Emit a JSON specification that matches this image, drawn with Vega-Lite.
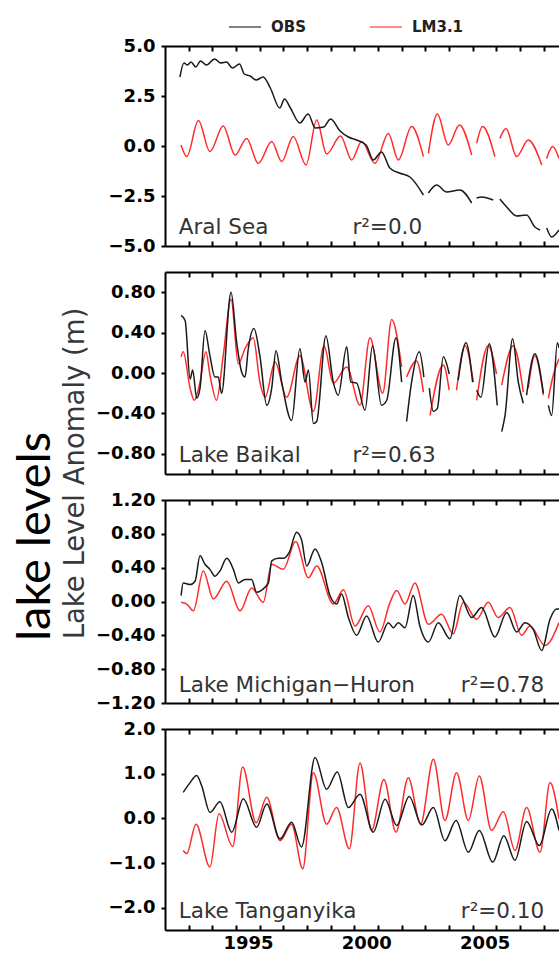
{
  "$schema": "https://vega.github.io/schema/vega-lite/v6.json",
  "autosize": {"type": "none"},
  "padding": {"left": 165, "top": 46, "right": 394, "bottom": 914},
  "background": "white",
  "bounds": "flush",
  "spacing": 26,
  "resolve": {"scale": {"color": "shared"}, "legend": {"color": "shared"}},
  "datasets": {
    "aral": [
      {"s":"LM3.1","t":1992.68,"v":0.05},{"s":"LM3.1","t":1992.92,"v":-0.53},{"s":"LM3.1","t":1993.41,"v":1.27},{"s":"LM3.1","t":1993.90,"v":-0.28},{"s":"LM3.1","t":1994.46,"v":1.0},{"s":"LM3.1","t":1994.96,"v":-0.45},{"s":"LM3.1","t":1995.45,"v":0.38},{"s":"LM3.1","t":1995.94,"v":-0.87},{"s":"LM3.1","t":1996.51,"v":0.22},{"s":"LM3.1","t":1996.93,"v":-0.78},{"s":"LM3.1","t":1997.42,"v":0.47},{"s":"LM3.1","t":1997.96,"v":-0.95},{"s":"LM3.1","t":1998.41,"v":1.3},{"s":"LM3.1","t":1998.83,"v":-0.4},{"s":"LM3.1","t":1999.42,"v":0.5},{"s":"LM3.1","t":1999.89,"v":-0.7},{"s":"LM3.1","t":2000.31,"v":0.22},{"s":"LM3.1","t":2000.87,"v":-0.87},{"s":"LM3.1","t":2001.44,"v":0.63},{"s":"LM3.1","t":2001.86,"v":-0.7},{"s":"LM3.1","t":2002.42,"v":0.97},{"s":"LM3.1","t":2002.92,"v":-0.53},{"s":"LM3.1","t":2003.02,"v":null},{"s":"LM3.1","t":2003.13,"v":-0.37},{"s":"LM3.1","t":2003.51,"v":1.6},{"s":"LM3.1","t":2003.97,"v":0.05},{"s":"LM3.1","t":2004.44,"v":1.05},{"s":"LM3.1","t":2004.96,"v":-0.45},{"s":"LM3.1","t":2005.06,"v":null},{"s":"LM3.1","t":2005.17,"v":0.13},{"s":"LM3.1","t":2005.42,"v":0.97},{"s":"LM3.1","t":2005.94,"v":-0.53},{"s":"LM3.1","t":2006.05,"v":null},{"s":"LM3.1","t":2006.15,"v":0.38},{"s":"LM3.1","t":2006.41,"v":0.88},{"s":"LM3.1","t":2006.86,"v":-0.53},{"s":"LM3.1","t":2007.35,"v":0.3},{"s":"LM3.1","t":2007.92,"v":-0.95},{"s":"LM3.1","t":2008.02,"v":null},{"s":"LM3.1","t":2008.13,"v":-0.62},{"s":"LM3.1","t":2008.38,"v":-0.03},{"s":"LM3.1","t":2008.65,"v":-0.62},
      {"s":"OBS","t":1992.63,"v":3.45},{"s":"OBS","t":1992.8,"v":4.15},{"s":"OBS","t":1992.95,"v":4.05},{"s":"OBS","t":1993.1,"v":4.2},{"s":"OBS","t":1993.3,"v":3.95},{"s":"OBS","t":1993.5,"v":4.25},{"s":"OBS","t":1993.75,"v":4.05},{"s":"OBS","t":1994.1,"v":4.35},{"s":"OBS","t":1994.35,"v":4.15},{"s":"OBS","t":1994.6,"v":4.2},{"s":"OBS","t":1994.85,"v":3.9},{"s":"OBS","t":1995.15,"v":4.1},{"s":"OBS","t":1995.35,"v":3.6},{"s":"OBS","t":1995.6,"v":3.5},{"s":"OBS","t":1995.85,"v":3.3},{"s":"OBS","t":1996.15,"v":3.45},{"s":"OBS","t":1996.45,"v":2.9},{"s":"OBS","t":1996.85,"v":1.9},{"s":"OBS","t":1997.05,"v":2.35},{"s":"OBS","t":1997.3,"v":1.9},{"s":"OBS","t":1997.7,"v":1.15},{"s":"OBS","t":1998.05,"v":1.6},{"s":"OBS","t":1998.35,"v":0.9},{"s":"OBS","t":1998.7,"v":0.95},{"s":"OBS","t":1999.0,"v":1.35},{"s":"OBS","t":1999.4,"v":0.75},{"s":"OBS","t":1999.75,"v":0.45},{"s":"OBS","t":2000.1,"v":0.3},{"s":"OBS","t":2000.5,"v":0.05},{"s":"OBS","t":2000.8,"v":-0.7},{"s":"OBS","t":2001.15,"v":-0.3},{"s":"OBS","t":2001.5,"v":-1.1},{"s":"OBS","t":2001.9,"v":-1.35},{"s":"OBS","t":2002.35,"v":-1.55},{"s":"OBS","t":2002.92,"v":-2.45},{"s":"OBS","t":2003.02,"v":null},{"s":"OBS","t":2003.13,"v":-2.35},{"s":"OBS","t":2003.48,"v":-1.95},{"s":"OBS","t":2003.9,"v":-2.3},{"s":"OBS","t":2004.46,"v":-2.2},{"s":"OBS","t":2004.96,"v":-2.85},{"s":"OBS","t":2005.06,"v":null},{"s":"OBS","t":2005.17,"v":-2.6},{"s":"OBS","t":2005.38,"v":-2.55},{"s":"OBS","t":2005.87,"v":-2.7},{"s":"OBS","t":2006.05,"v":null},{"s":"OBS","t":2006.15,"v":-2.65},{"s":"OBS","t":2006.44,"v":-3.05},{"s":"OBS","t":2006.86,"v":-3.5},{"s":"OBS","t":2007.28,"v":-3.45},{"s":"OBS","t":2007.63,"v":-4.05},{"s":"OBS","t":2007.85,"v":-4.2},{"s":"OBS","t":2008.02,"v":null},{"s":"OBS","t":2008.13,"v":-4.1},{"s":"OBS","t":2008.34,"v":-4.55},{"s":"OBS","t":2008.65,"v":-4.2}
    ],
    "baikal": [
      {"s":"LM3.1","t":1992.68,"v":0.16},{"s":"LM3.1","t":1992.77,"v":0.21},{"s":"LM3.1","t":1993.06,"v":-0.15},{"s":"LM3.1","t":1993.24,"v":-0.27},{"s":"LM3.1","t":1993.48,"v":-0.09},{"s":"LM3.1","t":1993.73,"v":0.21},{"s":"LM3.1","t":1993.9,"v":-0.02},{"s":"LM3.1","t":1994.18,"v":-0.27},{"s":"LM3.1","t":1994.46,"v":0.17},{"s":"LM3.1","t":1994.79,"v":0.73},{"s":"LM3.1","t":1995.1,"v":0.09},{"s":"LM3.1","t":1995.38,"v":0.24},{"s":"LM3.1","t":1995.73,"v":0.35},{"s":"LM3.1","t":1996.01,"v":-0.09},{"s":"LM3.1","t":1996.23,"v":-0.24},{"s":"LM3.1","t":1996.65,"v":0.11},{"s":"LM3.1","t":1997.14,"v":-0.24},{"s":"LM3.1","t":1997.7,"v":0.17},{"s":"LM3.1","t":1998.27,"v":-0.38},{"s":"LM3.1","t":1998.72,"v":0.27},{"s":"LM3.1","t":1999.11,"v":-0.1},{"s":"LM3.1","t":1999.68,"v":0.06},{"s":"LM3.1","t":2000.24,"v":-0.32},{"s":"LM3.1","t":2000.66,"v":0.35},{"s":"LM3.1","t":2001.2,"v":-0.2},{"s":"LM3.1","t":2001.58,"v":0.53},{"s":"LM3.1","t":2002.0,"v":0.06},{"s":"LM3.1","t":2002.1,"v":null},{"s":"LM3.1","t":2002.21,"v":-0.04},{"s":"LM3.1","t":2002.63,"v":0.12},{"s":"LM3.1","t":2002.92,"v":-0.19},{"s":"LM3.1","t":2003.05,"v":null},{"s":"LM3.1","t":2003.2,"v":-0.42},{"s":"LM3.1","t":2003.76,"v":0.08},{"s":"LM3.1","t":2004.01,"v":-0.17},{"s":"LM3.1","t":2004.15,"v":null},{"s":"LM3.1","t":2004.32,"v":-0.17},{"s":"LM3.1","t":2004.68,"v":0.27},{"s":"LM3.1","t":2005.03,"v":-0.09},{"s":"LM3.1","t":2005.08,"v":null},{"s":"LM3.1","t":2005.17,"v":-0.27},{"s":"LM3.1","t":2005.66,"v":0.27},{"s":"LM3.1","t":2006.01,"v":-0.01},{"s":"LM3.1","t":2006.13,"v":null},{"s":"LM3.1","t":2006.23,"v":-0.12},{"s":"LM3.1","t":2006.72,"v":0.27},{"s":"LM3.1","t":2007.14,"v":-0.19},{"s":"LM3.1","t":2007.2,"v":null},{"s":"LM3.1","t":2007.35,"v":-0.15},{"s":"LM3.1","t":2007.63,"v":0.17},{"s":"LM3.1","t":2007.99,"v":-0.22},{"s":"LM3.1","t":2008.1,"v":null},{"s":"LM3.1","t":2008.2,"v":-0.25},{"s":"LM3.1","t":2008.41,"v":-0.02},{"s":"LM3.1","t":2008.65,"v":0.14},
      {"s":"OBS","t":1992.68,"v":0.57},{"s":"OBS","t":1992.85,"v":0.52},{"s":"OBS","t":1993.06,"v":-0.06},{"s":"OBS","t":1993.17,"v":0.03},{"s":"OBS","t":1993.34,"v":-0.25},{"s":"OBS","t":1993.48,"v":-0.15},{"s":"OBS","t":1993.69,"v":0.42},{"s":"OBS","t":1993.9,"v":0.17},{"s":"OBS","t":1994.11,"v":-0.04},{"s":"OBS","t":1994.25,"v":-0.04},{"s":"OBS","t":1994.39,"v":-0.2},{"s":"OBS","t":1994.79,"v":0.8},{"s":"OBS","t":1995.03,"v":0.3},{"s":"OBS","t":1995.24,"v":0.01},{"s":"OBS","t":1995.38,"v":-0.04},{"s":"OBS","t":1995.52,"v":0.24},{"s":"OBS","t":1995.76,"v":0.44},{"s":"OBS","t":1996.01,"v":0.17},{"s":"OBS","t":1996.3,"v":-0.32},{"s":"OBS","t":1996.51,"v":-0.15},{"s":"OBS","t":1996.69,"v":0.22},{"s":"OBS","t":1996.93,"v":-0.09},{"s":"OBS","t":1997.35,"v":-0.47},{"s":"OBS","t":1997.7,"v":0.24},{"s":"OBS","t":1997.92,"v":-0.09},{"s":"OBS","t":1998.06,"v":0.03},{"s":"OBS","t":1998.27,"v":-0.5},{"s":"OBS","t":1998.41,"v":-0.48},{"s":"OBS","t":1998.8,"v":0.37},{"s":"OBS","t":1999.11,"v":-0.09},{"s":"OBS","t":1999.32,"v":-0.22},{"s":"OBS","t":1999.68,"v":0.26},{"s":"OBS","t":1999.85,"v":-0.09},{"s":"OBS","t":2000.1,"v":-0.1},{"s":"OBS","t":2000.45,"v":-0.37},{"s":"OBS","t":2000.77,"v":0.27},{"s":"OBS","t":2001.15,"v":-0.32},{"s":"OBS","t":2001.37,"v":-0.27},{"s":"OBS","t":2001.76,"v":0.35},{"s":"OBS","t":2002.0,"v":-0.09},{"s":"OBS","t":2002.1,"v":null},{"s":"OBS","t":2002.21,"v":-0.48},{"s":"OBS","t":2002.42,"v":-0.09},{"s":"OBS","t":2002.75,"v":0.21},{"s":"OBS","t":2002.94,"v":-0.04},{"s":"OBS","t":2003.05,"v":null},{"s":"OBS","t":2003.17,"v":-0.15},{"s":"OBS","t":2003.34,"v":-0.38},{"s":"OBS","t":2003.51,"v":-0.35},{"s":"OBS","t":2003.76,"v":0.16},{"s":"OBS","t":2004.01,"v":-0.01},{"s":"OBS","t":2004.15,"v":null},{"s":"OBS","t":2004.39,"v":-0.07},{"s":"OBS","t":2004.72,"v":0.3},{"s":"OBS","t":2005.0,"v":-0.09},{"s":"OBS","t":2005.08,"v":null},{"s":"OBS","t":2005.17,"v":-0.17},{"s":"OBS","t":2005.35,"v":-0.24},{"s":"OBS","t":2005.7,"v":0.29},{"s":"OBS","t":2006.04,"v":-0.32},{"s":"OBS","t":2006.13,"v":null},{"s":"OBS","t":2006.23,"v":-0.58},{"s":"OBS","t":2006.37,"v":-0.42},{"s":"OBS","t":2006.69,"v":0.34},{"s":"OBS","t":2006.93,"v":-0.09},{"s":"OBS","t":2007.14,"v":-0.3},{"s":"OBS","t":2007.2,"v":null},{"s":"OBS","t":2007.28,"v":-0.22},{"s":"OBS","t":2007.63,"v":0.19},{"s":"OBS","t":2007.99,"v":-0.2},{"s":"OBS","t":2008.1,"v":null},{"s":"OBS","t":2008.2,"v":-0.32},{"s":"OBS","t":2008.34,"v":-0.42},{"s":"OBS","t":2008.58,"v":0.3},{"s":"OBS","t":2008.65,"v":0.25}
    ],
    "mh": [
      {"s":"LM3.1","t":1992.68,"v":-0.01},{"s":"LM3.1","t":1992.92,"v":-0.03},{"s":"LM3.1","t":1993.2,"v":-0.11},{"s":"LM3.1","t":1993.62,"v":0.36},{"s":"LM3.1","t":1994.04,"v":0.03},{"s":"LM3.1","t":1994.61,"v":0.24},{"s":"LM3.1","t":1995.17,"v":-0.11},{"s":"LM3.1","t":1995.66,"v":0.16},{"s":"LM3.1","t":1996.15,"v":-0.01},{"s":"LM3.1","t":1996.51,"v":0.44},{"s":"LM3.1","t":1997.0,"v":0.38},{"s":"LM3.1","t":1997.52,"v":0.71},{"s":"LM3.1","t":1998.06,"v":0.28},{"s":"LM3.1","t":1998.41,"v":0.42},{"s":"LM3.1","t":1999.11,"v":-0.03},{"s":"LM3.1","t":1999.54,"v":0.14},{"s":"LM3.1","t":2000.03,"v":-0.29},{"s":"LM3.1","t":2000.59,"v":-0.05},{"s":"LM3.1","t":2001.08,"v":-0.36},{"s":"LM3.1","t":2001.51,"v":-0.01},{"s":"LM3.1","t":2001.79,"v":0.13},{"s":"LM3.1","t":2002.14,"v":-0.03},{"s":"LM3.1","t":2002.56,"v":0.22},{"s":"LM3.1","t":2003.13,"v":-0.27},{"s":"LM3.1","t":2003.69,"v":-0.15},{"s":"LM3.1","t":2004.18,"v":-0.38},{"s":"LM3.1","t":2004.61,"v":-0.01},{"s":"LM3.1","t":2005.17,"v":-0.21},{"s":"LM3.1","t":2005.66,"v":-0.01},{"s":"LM3.1","t":2006.08,"v":-0.19},{"s":"LM3.1","t":2006.58,"v":-0.07},{"s":"LM3.1","t":2007.07,"v":-0.4},{"s":"LM3.1","t":2007.42,"v":-0.29},{"s":"LM3.1","t":2008.06,"v":-0.52},{"s":"LM3.1","t":2008.65,"v":-0.25},
      {"s":"OBS","t":1992.68,"v":0.07},{"s":"OBS","t":1992.77,"v":0.22},{"s":"OBS","t":1993.06,"v":0.2},{"s":"OBS","t":1993.27,"v":0.24},{"s":"OBS","t":1993.48,"v":0.54},{"s":"OBS","t":1993.69,"v":0.44},{"s":"OBS","t":1993.9,"v":0.38},{"s":"OBS","t":1994.11,"v":0.3},{"s":"OBS","t":1994.32,"v":0.36},{"s":"OBS","t":1994.61,"v":0.51},{"s":"OBS","t":1994.89,"v":0.38},{"s":"OBS","t":1995.1,"v":0.22},{"s":"OBS","t":1995.38,"v":0.26},{"s":"OBS","t":1995.66,"v":0.26},{"s":"OBS","t":1995.87,"v":0.11},{"s":"OBS","t":1996.15,"v":0.15},{"s":"OBS","t":1996.37,"v":0.22},{"s":"OBS","t":1996.51,"v":0.48},{"s":"OBS","t":1996.79,"v":0.51},{"s":"OBS","t":1997.0,"v":0.51},{"s":"OBS","t":1997.25,"v":0.58},{"s":"OBS","t":1997.56,"v":0.82},{"s":"OBS","t":1997.77,"v":0.73},{"s":"OBS","t":1997.99,"v":0.42},{"s":"OBS","t":1998.34,"v":0.62},{"s":"OBS","t":1998.62,"v":0.46},{"s":"OBS","t":1998.97,"v":0.07},{"s":"OBS","t":1999.25,"v":-0.03},{"s":"OBS","t":1999.46,"v":0.09},{"s":"OBS","t":1999.75,"v":-0.19},{"s":"OBS","t":2000.1,"v":-0.4},{"s":"OBS","t":2000.52,"v":-0.17},{"s":"OBS","t":2001.01,"v":-0.48},{"s":"OBS","t":2001.44,"v":-0.25},{"s":"OBS","t":2001.65,"v":-0.31},{"s":"OBS","t":2001.86,"v":-0.25},{"s":"OBS","t":2002.14,"v":-0.31},{"s":"OBS","t":2002.49,"v":0.07},{"s":"OBS","t":2002.77,"v":-0.29},{"s":"OBS","t":2003.13,"v":-0.48},{"s":"OBS","t":2003.55,"v":-0.25},{"s":"OBS","t":2004.04,"v":-0.44},{"s":"OBS","t":2004.46,"v":0.07},{"s":"OBS","t":2004.96,"v":-0.19},{"s":"OBS","t":2005.38,"v":-0.07},{"s":"OBS","t":2005.94,"v":-0.42},{"s":"OBS","t":2006.44,"v":-0.13},{"s":"OBS","t":2006.86,"v":-0.36},{"s":"OBS","t":2007.21,"v":-0.25},{"s":"OBS","t":2007.56,"v":-0.33},{"s":"OBS","t":2007.92,"v":-0.58},{"s":"OBS","t":2008.27,"v":-0.21},{"s":"OBS","t":2008.55,"v":-0.09},{"s":"OBS","t":2008.65,"v":-0.09}
    ],
    "tang": [
      {"s":"LM3.1","t":1992.77,"v":-0.72},{"s":"LM3.1","t":1992.92,"v":-0.79},{"s":"LM3.1","t":1993.31,"v":-0.13},{"s":"LM3.1","t":1993.9,"v":-1.09},{"s":"LM3.1","t":1994.28,"v":0.1},{"s":"LM3.1","t":1994.86,"v":-0.63},{"s":"LM3.1","t":1995.28,"v":1.15},{"s":"LM3.1","t":1995.85,"v":-0.1},{"s":"LM3.1","t":1996.3,"v":0.47},{"s":"LM3.1","t":1996.86,"v":-0.5},{"s":"LM3.1","t":1997.35,"v":-0.13},{"s":"LM3.1","t":1997.82,"v":-1.13},{"s":"LM3.1","t":1998.27,"v":1.02},{"s":"LM3.1","t":1998.83,"v":-0.13},{"s":"LM3.1","t":1999.25,"v":0.24},{"s":"LM3.1","t":1999.79,"v":-0.68},{"s":"LM3.1","t":2000.24,"v":1.24},{"s":"LM3.1","t":2000.73,"v":-0.27},{"s":"LM3.1","t":2001.25,"v":0.87},{"s":"LM3.1","t":2001.76,"v":-0.31},{"s":"LM3.1","t":2002.28,"v":0.91},{"s":"LM3.1","t":2002.8,"v":-0.13},{"s":"LM3.1","t":2003.34,"v":1.32},{"s":"LM3.1","t":2003.83,"v":-0.05},{"s":"LM3.1","t":2004.32,"v":1.02},{"s":"LM3.1","t":2004.82,"v":-0.05},{"s":"LM3.1","t":2005.28,"v":0.95},{"s":"LM3.1","t":2005.8,"v":-0.27},{"s":"LM3.1","t":2006.3,"v":0.15},{"s":"LM3.1","t":2006.79,"v":-0.72},{"s":"LM3.1","t":2007.28,"v":0.24},{"s":"LM3.1","t":2007.85,"v":-0.76},{"s":"LM3.1","t":2008.27,"v":0.8},{"s":"LM3.1","t":2008.65,"v":-0.01},
      {"s":"OBS","t":1992.77,"v":0.58},{"s":"OBS","t":1993.06,"v":0.8},{"s":"OBS","t":1993.34,"v":0.96},{"s":"OBS","t":1993.55,"v":0.73},{"s":"OBS","t":1993.9,"v":0.13},{"s":"OBS","t":1994.32,"v":0.37},{"s":"OBS","t":1994.82,"v":-0.31},{"s":"OBS","t":1995.31,"v":0.44},{"s":"OBS","t":1995.87,"v":-0.2},{"s":"OBS","t":1996.3,"v":0.32},{"s":"OBS","t":1996.86,"v":-0.46},{"s":"OBS","t":1997.35,"v":-0.09},{"s":"OBS","t":1997.77,"v":-0.64},{"s":"OBS","t":1998.34,"v":1.36},{"s":"OBS","t":1998.83,"v":0.65},{"s":"OBS","t":1999.28,"v":1.04},{"s":"OBS","t":1999.75,"v":0.24},{"s":"OBS","t":2000.24,"v":0.54},{"s":"OBS","t":2000.8,"v":-0.31},{"s":"OBS","t":2001.3,"v":0.43},{"s":"OBS","t":2001.79,"v":-0.16},{"s":"OBS","t":2002.32,"v":0.49},{"s":"OBS","t":2002.85,"v":-0.15},{"s":"OBS","t":2003.34,"v":0.24},{"s":"OBS","t":2003.83,"v":-0.5},{"s":"OBS","t":2004.3,"v":-0.05},{"s":"OBS","t":2004.82,"v":-0.76},{"s":"OBS","t":2005.28,"v":-0.27},{"s":"OBS","t":2005.85,"v":-0.98},{"s":"OBS","t":2006.32,"v":-0.39},{"s":"OBS","t":2006.79,"v":-0.94},{"s":"OBS","t":2007.28,"v":-0.07},{"s":"OBS","t":2007.82,"v":-0.61},{"s":"OBS","t":2008.34,"v":0.21},{"s":"OBS","t":2008.65,"v":-0.27}
    ]
  },
  "vconcat": [
    {
      "width": 394, "height": 200,
      "layer": [
        {
          "data": {"name": "aral"},
          "mark": {"type": "line", "interpolate": "monotone", "strokeWidth": 1.5, "clip": true, "invalid": "break-paths-show-domains"},
          "encoding": {
            "x": {"field": "t", "type": "quantitative", "scale": {"domain": [1992, 2008.65], "nice": false, "zero": false},
                  "axis": {"orient": "bottom", "values": [1993,1994,1995,1996,1997,1998,1999,2000,2001,2002,2003,2004,2005,2006,2007,2008], "tickCount": 40, "tickSize": -5, "labels": false, "title": null}},
            "y": {"field": "v", "type": "quantitative", "scale": {"domain": [-5, 5], "nice": false, "zero": false},
                  "axis": {"orient": "left", "values": [-5,-2.5,0,2.5,5], "tickCount": 40, "format": ".1f", "tickSize": 4, "labelPadding": 6, "labelOverlap": false, "labelSeparation": 0, "title": null}},
            "color": {"field": "s", "type": "nominal", "scale": {"domain": ["OBS","LM3.1"], "range": ["#1a1a1a","#ff2b2b"]},
                      "legend": {"orient": "none", "legendX": 63, "legendY": -36, "direction": "horizontal", "title": null, "symbolType": "stroke", "symbolSize": 1024, "symbolStrokeWidth": 2, "symbolOpacity": 0.55, "labelFont": "DejaVu Sans", "labelFontSize": 15, "labelFontWeight": "bold", "labelColor": "#222", "columnPadding": 60, "labelOffset": 9}}
          }
        },
        {
          "data": {"values": [{"t": 1992.58, "v": -4.4, "txt": "Aral Sea"}, {"t": 1999.92, "v": -4.4, "txt": "r²=0.0"}]},
          "mark": {"type": "text", "align": "left", "baseline": "alphabetic", "font": "DejaVu Sans", "fontSize": 21.5, "color": "#333"},
          "encoding": {
            "x": {"field": "t", "type": "quantitative", "axis": {"orient": "top", "values": [1993,1994,1995,1996,1997,1998,1999,2000,2001,2002,2003,2004,2005,2006,2007,2008], "tickCount": 40, "tickSize": -5, "labels": false, "title": null}},
            "y": {"field": "v", "type": "quantitative"},
            "text": {"field": "txt"}
          }
        }
      ],
      "resolve": {"axis": {"x": "independent"}}
    },
    {
      "width": 394, "height": 202,
      "layer": [
        {
          "data": {"name": "baikal"},
          "mark": {"type": "line", "interpolate": "monotone", "strokeWidth": 1.5, "clip": true, "invalid": "break-paths-show-domains"},
          "encoding": {
            "x": {"field": "t", "type": "quantitative", "scale": {"domain": [1992, 2008.65], "nice": false, "zero": false},
                  "axis": {"orient": "bottom", "values": [1993,1994,1995,1996,1997,1998,1999,2000,2001,2002,2003,2004,2005,2006,2007,2008], "tickCount": 40, "tickSize": -5, "labels": false, "title": null}},
            "y": {"field": "v", "type": "quantitative", "scale": {"domain": [-1, 1], "nice": false, "zero": false},
                  "axis": {"orient": "left", "values": [-0.8,-0.4,0,0.4,0.8], "tickCount": 40, "format": ".2f", "tickSize": 4, "labelPadding": 6, "labelOverlap": false, "labelSeparation": 0,
                           "title": "Lake Level Anomaly (m)", "titleX": -82, "titleY": 201, "titleFont": "DejaVu Sans", "titleFontSize": 27.5, "titleFontWeight": "normal", "titleColor": "#383838", "titleBaseline": "alphabetic", "titleAlign": "center", "titleAngle": 270}},
            "color": {"field": "s", "type": "nominal", "scale": {"domain": ["OBS","LM3.1"], "range": ["#1a1a1a","#ff2b2b"]},
                      "legend": {"orient": "none", "legendX": 63, "legendY": -36, "direction": "horizontal", "title": null, "symbolType": "stroke", "symbolSize": 1024, "symbolStrokeWidth": 2, "symbolOpacity": 0.55, "labelFont": "DejaVu Sans", "labelFontSize": 15, "labelFontWeight": "bold", "labelColor": "#222", "columnPadding": 60, "labelOffset": 9}}
          }
        },
        {
          "data": {"values": [{"t": 1992.58, "v": -0.88, "txt": "Lake Baikal"}, {"t": 1999.92, "v": -0.88, "txt": "r²=0.63"}]},
          "mark": {"type": "text", "align": "left", "baseline": "alphabetic", "font": "DejaVu Sans", "fontSize": 21.5, "color": "#333"},
          "encoding": {
            "x": {"field": "t", "type": "quantitative", "axis": {"orient": "top", "values": [1993,1994,1995,1996,1997,1998,1999,2000,2001,2002,2003,2004,2005,2006,2007,2008], "tickCount": 40, "tickSize": -5, "labels": false, "title": null}},
            "y": {"field": "v", "type": "quantitative"},
            "text": {"field": "txt"}
          }
        }
      ],
      "resolve": {"axis": {"x": "independent"}}
    },
    {
      "width": 394, "height": 203,
      "layer": [
        {
          "data": {"name": "mh"},
          "mark": {"type": "line", "interpolate": "monotone", "strokeWidth": 1.5, "clip": true, "invalid": "break-paths-show-domains"},
          "encoding": {
            "x": {"field": "t", "type": "quantitative", "scale": {"domain": [1992, 2008.65], "nice": false, "zero": false},
                  "axis": {"orient": "bottom", "values": [1993,1994,1995,1996,1997,1998,1999,2000,2001,2002,2003,2004,2005,2006,2007,2008], "tickCount": 40, "tickSize": -5, "labels": false, "title": null}},
            "y": {"field": "v", "type": "quantitative", "scale": {"domain": [-1.2, 1.2], "nice": false, "zero": false},
                  "axis": {"orient": "left", "values": [-1.2,-0.8,-0.4,0,0.4,0.8,1.2], "tickCount": 40, "format": ".2f", "tickSize": 4, "labelPadding": 6, "labelOverlap": false, "labelSeparation": 0,
                           "title": "lake levels", "titleX": -116, "titleY": 36, "titleFont": "Lato", "titleFontSize": 47, "titleFontWeight": "normal", "titleColor": "black", "titleBaseline": "alphabetic", "titleAlign": "center", "titleAngle": 270}},
            "color": {"field": "s", "type": "nominal", "scale": {"domain": ["OBS","LM3.1"], "range": ["#1a1a1a","#ff2b2b"]},
                      "legend": {"orient": "none", "legendX": 63, "legendY": -36, "direction": "horizontal", "title": null, "symbolType": "stroke", "symbolSize": 1024, "symbolStrokeWidth": 2, "symbolOpacity": 0.55, "labelFont": "DejaVu Sans", "labelFontSize": 15, "labelFontWeight": "bold", "labelColor": "#222", "columnPadding": 60, "labelOffset": 9}}
          }
        },
        {
          "data": {"values": [{"t": 1992.58, "v": -1.07, "txt": "Lake Michigan−Huron"}, {"t": 2004.5, "v": -1.07, "txt": "r²=0.78"}]},
          "mark": {"type": "text", "align": "left", "baseline": "alphabetic", "font": "DejaVu Sans", "fontSize": 21.5, "color": "#333"},
          "encoding": {
            "x": {"field": "t", "type": "quantitative", "axis": {"orient": "top", "values": [1993,1994,1995,1996,1997,1998,1999,2000,2001,2002,2003,2004,2005,2006,2007,2008], "tickCount": 40, "tickSize": -5, "labels": false, "title": null}},
            "y": {"field": "v", "type": "quantitative"},
            "text": {"field": "txt"}
          }
        }
      ],
      "resolve": {"axis": {"x": "independent"}}
    },
    {
      "width": 394, "height": 201,
      "layer": [
        {
          "data": {"name": "tang"},
          "mark": {"type": "line", "interpolate": "monotone", "strokeWidth": 1.5, "clip": true, "invalid": "break-paths-show-domains"},
          "encoding": {
            "x": {"field": "t", "type": "quantitative", "scale": {"domain": [1992, 2008.65], "nice": false, "zero": false},
                  "axis": {"orient": "bottom", "values": [1993,1994,1995,1996,1997,1998,1999,2000,2001,2002,2003,2004,2005,2006,2007,2008], "tickCount": 40, "tickSize": -5, "labels": true, "labelExpr": "(datum.value == 1995 || datum.value == 2000 || datum.value == 2005) ? '' + datum.value : ''", "labelOffset": 12, "labelPadding": 9, "title": null}},
            "y": {"field": "v", "type": "quantitative", "scale": {"domain": [-2.5, 2], "nice": false, "zero": false},
                  "axis": {"orient": "left", "values": [-2,-1,0,1,2], "tickCount": 40, "format": ".1f", "tickSize": 4, "labelPadding": 6, "labelOverlap": false, "labelSeparation": 0, "title": null}},
            "color": {"field": "s", "type": "nominal", "scale": {"domain": ["OBS","LM3.1"], "range": ["#1a1a1a","#ff2b2b"]},
                      "legend": {"orient": "none", "legendX": 63, "legendY": -36, "direction": "horizontal", "title": null, "symbolType": "stroke", "symbolSize": 1024, "symbolStrokeWidth": 2, "symbolOpacity": 0.55, "labelFont": "DejaVu Sans", "labelFontSize": 15, "labelFontWeight": "bold", "labelColor": "#222", "columnPadding": 60, "labelOffset": 9}}
          }
        },
        {
          "data": {"values": [{"t": 1992.58, "v": -2.24, "txt": "Lake Tanganyika"}, {"t": 2004.5, "v": -2.24, "txt": "r²=0.10"}]},
          "mark": {"type": "text", "align": "left", "baseline": "alphabetic", "font": "DejaVu Sans", "fontSize": 21.5, "color": "#333"},
          "encoding": {
            "x": {"field": "t", "type": "quantitative", "axis": {"orient": "top", "values": [1993,1994,1995,1996,1997,1998,1999,2000,2001,2002,2003,2004,2005,2006,2007,2008], "tickCount": 40, "tickSize": -5, "labels": false, "title": null}},
            "y": {"field": "v", "type": "quantitative"},
            "text": {"field": "txt"}
          }
        }
      ],
      "resolve": {"axis": {"x": "independent"}}
    }
  ],
  "config": {
    "view": {"stroke": null},
    "axis": {"domainColor": "black", "domainWidth": 2, "tickColor": "black", "tickWidth": 2, "grid": false,
             "labelFont": "DejaVu Sans", "labelFontSize": 18, "labelFontWeight": "bold", "labelColor": "black",
             "labelFlush": false, "labelOverlap": false, "labelBound": false}
  }
}
